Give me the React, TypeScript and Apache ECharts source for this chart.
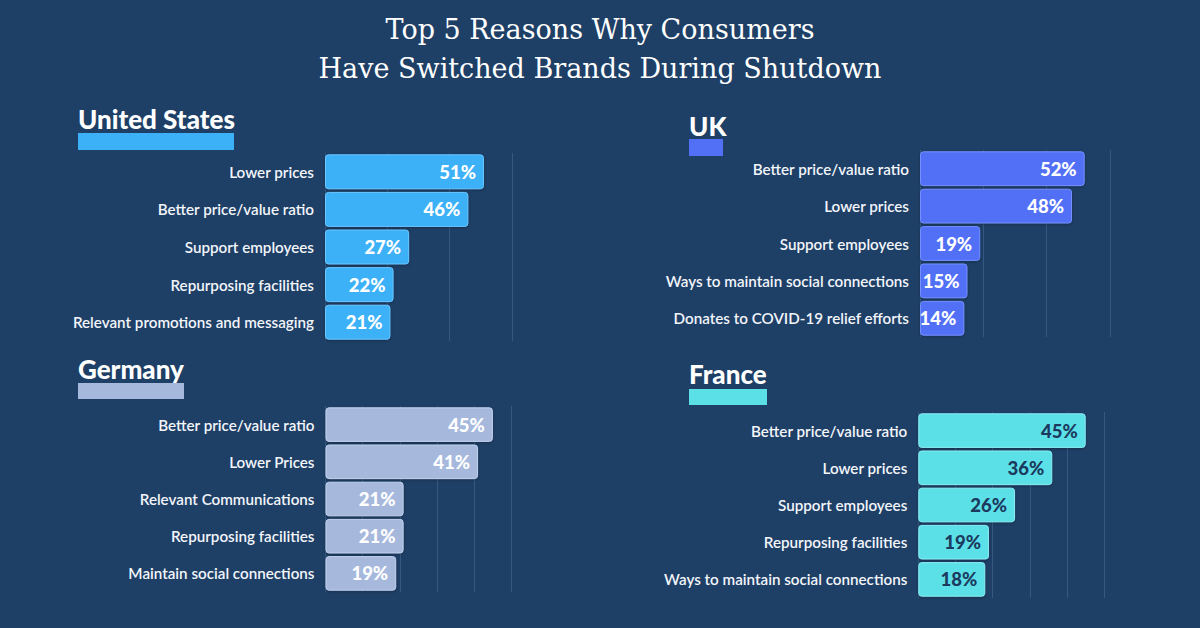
import React, { useEffect, useRef } from "react";
import * as echarts from "echarts";

// Survey results per country (share of respondents, %)
const usCategories = [
  "Lower prices",
  "Better price/value ratio",
  "Support employees",
  "Repurposing facilities",
  "Relevant promotions and messaging",
];
const usValues = [51, 46, 27, 22, 21];

const ukCategories = [
  "Better price/value ratio",
  "Lower prices",
  "Support employees",
  "Ways to maintain social connections",
  "Donates to COVID-19 relief efforts",
];
const ukValues = [52, 48, 19, 15, 14];

const deCategories = [
  "Better price/value ratio",
  "Lower Prices",
  "Relevant Communications",
  "Repurposing facilities",
  "Maintain social connections",
];
const deValues = [45, 41, 21, 21, 19];

const frCategories = [
  "Better price/value ratio",
  "Lower prices",
  "Support employees",
  "Repurposing facilities",
  "Ways to maintain social connections",
];
const frValues = [45, 36, 26, 19, 18];

const titleLines = ["Top 5 Reasons Why Consumers", "Have Switched Brands During Shutdown"];

const BG = "#1e3f66";
const GRID_LINE = "#34587f";
const SANS = "Lato, 'Open Sans', sans-serif";

type Panel = {
  name: string;
  categories: string[];
  values: number[];
  color: string;
  border: string;
  labelColor: string;
  max: number;
  interval: number;
  grid: { left: number; top: number; width: number; height: number };
  title: { x: number; y: number; bar: [number, number, number, number] };
};

const panels: Panel[] = [
  {
    name: "United States",
    categories: usCategories,
    values: usValues,
    color: "#3cb1f8",
    border: "#6cc6ff",
    labelColor: "#ffffff",
    max: 60,
    interval: 20,
    grid: { left: 325, top: 153, width: 187, height: 188 },
    title: { x: 78, y: 119, bar: [78, 133, 156, 17] },
  },
  {
    name: "UK",
    categories: ukCategories,
    values: ukValues,
    color: "#5170f6",
    border: "#7690ff",
    labelColor: "#ffffff",
    max: 60,
    interval: 20,
    grid: { left: 920, top: 150, width: 190, height: 187 },
    title: { x: 689, y: 126, bar: [689, 139, 34, 17] },
  },
  {
    name: "Germany",
    categories: deCategories,
    values: deValues,
    color: "#a6b9dd",
    border: "#c3d2ee",
    labelColor: "#ffffff",
    max: 50,
    interval: 10,
    grid: { left: 325.5, top: 406, width: 186, height: 186 },
    title: { x: 78, y: 369, bar: [78, 383, 106, 16] },
  },
  {
    name: "France",
    categories: frCategories,
    values: frValues,
    color: "#5ce0e8",
    border: "#8aeef3",
    labelColor: "#1b3a5e",
    max: 50,
    interval: 10,
    grid: { left: 918.3, top: 412, width: 186, height: 186 },
    title: { x: 689, y: 374, bar: [689, 389, 78, 16] },
  },
];

export default function App() {
  const ref = useRef<HTMLDivElement>(null);

  useEffect(() => {
    if (!ref.current) return;
    const chart = echarts.init(ref.current, null, { renderer: "svg" });

    const grids = panels.map((p) => ({ ...p.grid, containLabel: false }));
    const xAxes = panels.map((p, i) => ({
      type: "value" as const,
      gridIndex: i,
      min: 0,
      max: p.max,
      interval: p.interval,
      axisLine: { show: false },
      axisTick: { show: false },
      axisLabel: { show: false },
      splitLine: { show: true, lineStyle: { color: GRID_LINE, width: 1 } },
    }));
    const yAxes = panels.map((p, i) => ({
      type: "category" as const,
      gridIndex: i,
      inverse: true,
      data: p.categories,
      axisLine: { show: false },
      axisTick: { show: false },
      axisLabel: {
        margin: 11,
        color: "#f2f5fa",
        fontFamily: SANS,
        fontWeight: 600,
        fontSize: 15.2,
      },
    }));
    const series = panels.map((p, i) => ({
      type: "bar" as const,
      name: p.name,
      xAxisIndex: i,
      yAxisIndex: i,
      data: p.values,
      barCategoryGap: "7%",
      itemStyle: {
        color: p.color,
        borderColor: p.border,
        borderWidth: 1,
        borderRadius: 3,
        shadowColor: "rgba(0,0,0,0.25)",
        shadowBlur: 3,
        shadowOffsetY: 1,
      },
      label: {
        show: true,
        position: "insideRight" as const,
        distance: 8,
        formatter: "{c}%",
        color: p.labelColor,
        fontFamily: SANS,
        fontWeight: 900,
        fontSize: 18.5,
      },
    }));

    const graphics: any[] = [];
    titleLines.forEach((line, i) => {
      graphics.push({
        type: "text",
        x: 600,
        y: 29.5 + i * 39,
        style: {
          text: line,
          fill: "#ffffff",
          font: "normal 27px 'DejaVu Serif', serif",
          textAlign: "center",
          textVerticalAlign: "middle",
        },
      });
    });
    panels.forEach((p) => {
      const [bx, by, bw, bh] = p.title.bar;
      graphics.push({
        type: "rect",
        shape: { x: bx, y: by, width: bw, height: bh },
        style: { fill: p.color },
      });
      graphics.push({
        type: "text",
        x: p.title.x,
        y: p.title.y,
        style: {
          text: p.name,
          fill: "#ffffff",
          font: `900 26px ${SANS}`,
          textAlign: "left",
          textVerticalAlign: "middle",
        },
      });
    });

    chart.setOption({
      animation: false,
      backgroundColor: BG,
      grid: grids,
      xAxis: xAxes,
      yAxis: yAxes,
      series,
      graphic: graphics,
    });

    return () => chart.dispose();
  }, []);

  return (
    <div
      ref={ref}
      style={{ position: "fixed", left: 0, top: 0, width: 1200, height: 628 }}
    />
  );
}
